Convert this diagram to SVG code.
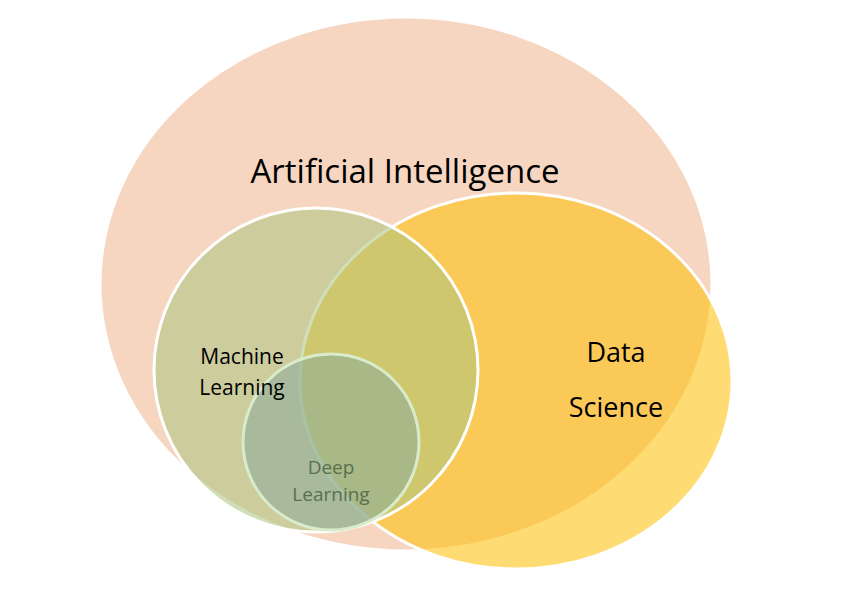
<svg xmlns="http://www.w3.org/2000/svg" width="842" height="594" viewBox="0 0 842 594">
<style>
.c{stroke:#fff;stroke-width:3}
.t{font-family:"Open Sans","Liberation Sans",sans-serif;text-anchor:middle;fill:#000}
</style>
<rect width="842" height="594" fill="#fff"/>
<g id="ai"><ellipse class="c" cx="406" cy="284" rx="306" ry="267" fill="#f7d6c1"/></g>
<g id="ds"><ellipse class="c" cx="516" cy="381" rx="216" ry="188" fill="#ffc000" fill-opacity="0.55"/></g>
<g id="ml"><circle class="c" cx="316" cy="370" r="162" fill="#a9c47f" fill-opacity="0.55"/></g>
<g id="dl"><circle cx="331" cy="442" r="88" fill="#8fae9a" fill-opacity="0.6" stroke="#d8eccc" stroke-width="3"/></g>
<g id="labels">
<text class="t" x="405" y="183" font-size="33">Artificial Intelligence</text>
<text class="t" x="242" y="364" font-size="21">Machine</text>
<text class="t" x="242" y="395" font-size="21">Learning</text>
<text class="t" x="616" y="362" font-size="27">Data</text>
<text class="t" x="616" y="417" font-size="27">Science</text>
<text class="t" x="331" y="474" font-size="19" style="fill:#5b6e4e">Deep</text>
<text class="t" x="331" y="501" font-size="19" style="fill:#5b6e4e">Learning</text>
</g>
</svg>
